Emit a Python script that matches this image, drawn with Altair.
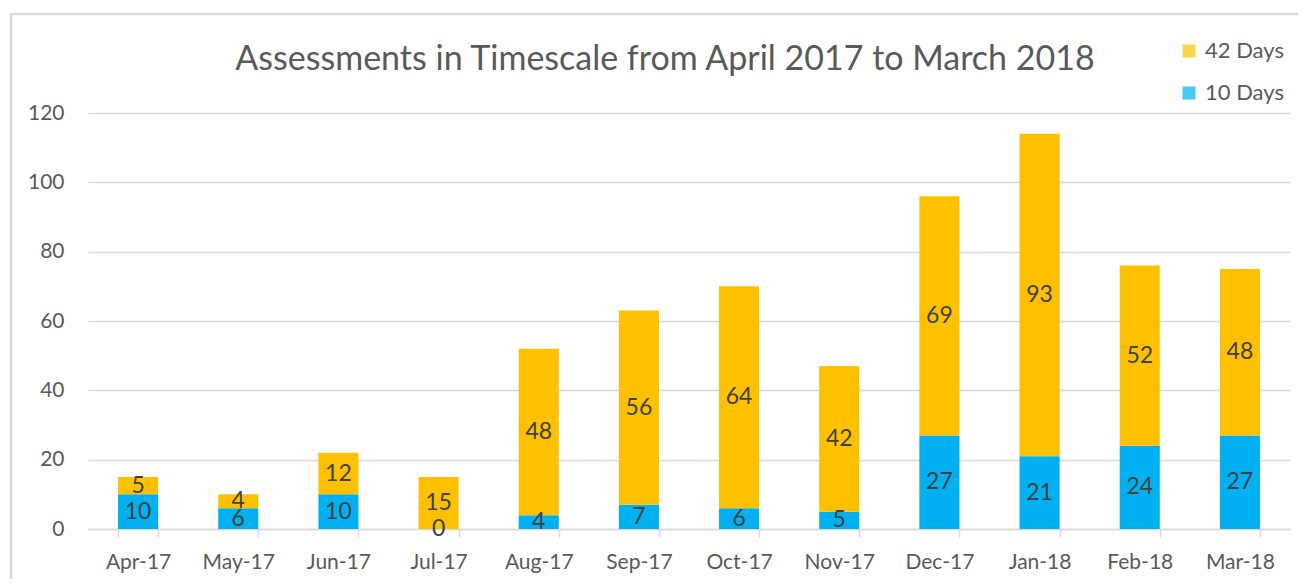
import altair as alt
import pandas as pd

months = ["Apr-17", "May-17", "Jun-17", "Jul-17", "Aug-17", "Sep-17",
          "Oct-17", "Nov-17", "Dec-17", "Jan-18", "Feb-18", "Mar-18"]
days10 = [10, 6, 10, 0, 4, 7, 6, 5, 27, 21, 24, 27]
days42 = [5, 4, 12, 15, 48, 56, 64, 42, 69, 93, 52, 48]
series = ["42 Days", "10 Days"]
colors = ["#FFC000", "#00B0F0"]
y_ticks = [0, 20, 40, 60, 80, 100, 120]

rows = []
for m, a, b in zip(months, days10, days42):
    rows.append({"month": m, "series": "10 Days", "value": a, "ord": 0})
    rows.append({"month": m, "series": "42 Days", "value": b, "ord": 1})
df = pd.DataFrame(rows)

FONT = "Lato"
GREY = "#595959"

x_enc = alt.X("month:N", sort=months, title=None,
              scale=alt.Scale(paddingInner=0.6, paddingOuter=0.3),
              axis=alt.Axis(labelAngle=0, labelFontSize=21, labelColor=GREY,
                            labelFont=FONT, labelPadding=14,
                            domainColor="#D9D9D9", domainWidth=1.5,
                            tickColor="#D9D9D9", tickWidth=1.5, tickSize=8,
                            tickBand="extent", grid=False))

base = alt.Chart(df)

bars = base.mark_bar().encode(
    x=x_enc,
    y=alt.Y("value:Q", stack="zero", title=None,
            scale=alt.Scale(domain=[0, 120], nice=False),
            axis=alt.Axis(values=y_ticks, labelFontSize=21, labelColor=GREY,
                          labelFont=FONT, labelPadding=24, domain=False,
                          ticks=False, gridColor="#D9D9D9", gridWidth=1.5)),
    color=alt.Color("series:N", scale=alt.Scale(domain=series, range=colors),
                    legend=alt.Legend(title=None, orient="none", legendX=1090,
                                      legendY=-73, labelFontSize=22,
                                      labelFont=FONT, labelColor=GREY,
                                      symbolType="square", symbolSize=170,
                                      symbolStrokeWidth=0, symbolOpacity=0.7,
                                      rowPadding=20, labelOffset=5)),
    order=alt.Order("ord:Q", sort="ascending"),
)

labels = base.transform_stack(
    stack="value", groupby=["month"], as_=["v0", "v1"],
    sort=[alt.SortField("ord", order="ascending")]
).transform_calculate(
    mid="(datum.v0 + datum.v1) / 2"
).mark_text(fontSize=23, font=FONT, color="#404040", baseline="middle").encode(
    x=alt.X("month:N", sort=months),
    y=alt.Y("mid:Q"),
    text=alt.Text("value:Q"),
)

border = alt.Chart(pd.DataFrame({"a": [0]})).mark_rect(
    fill=None, stroke="#D9D9D9", strokeWidth=2.5
).encode(x=alt.value(-77), x2=alt.value(1260), y=alt.value(-99), y2=alt.value(520))

chart = alt.layer(border, bars, labels).properties(
    width=1202, height=416,
    title=alt.TitleParams("Assessments in Timescale from April 2017 to March 2018",
                          fontSize=34, font=FONT, fontWeight="normal",
                          color=GREY, anchor="middle", dx=-24, offset=0, dy=64),
    autosize=alt.AutoSizeParams(type="none"),
    padding={"left": 80, "top": 105, "right": 8, "bottom": 50},
).configure_view(stroke=None)

chart.save("out.html", embed_options={"renderer": "svg", "actions": False})
